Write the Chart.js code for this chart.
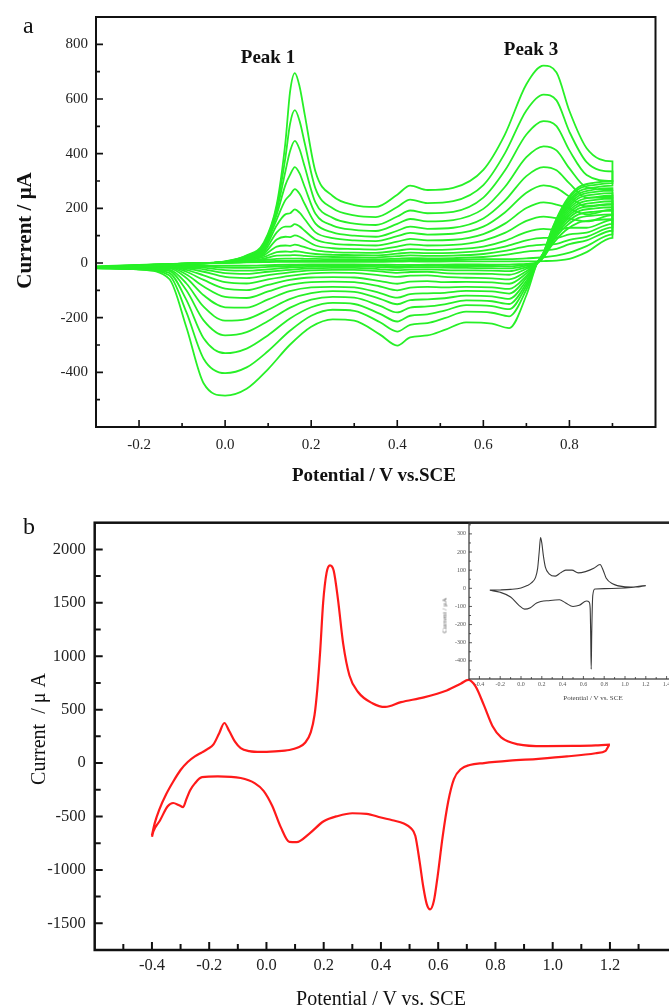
<!DOCTYPE html>
<html>
<head>
<meta charset="utf-8">
<script src="https://cdn.jsdelivr.net/npm/chart.js@4.4.1/dist/chart.umd.min.js"></script>
<style>
html, body { margin: 0; padding: 0; overflow: hidden; background: #fff; width: 669px; height: 1007px; }
canvas { position: absolute; display: block; }
.t { position: absolute; font-family: 'Liberation Serif', 'Times New Roman', serif; color: #111; white-space: pre; line-height: 1; }
.c { text-align: center; }
.r { transform: rotate(-90deg); }
</style>
</head>
<body>
<canvas id="chartA" width="669" height="500" style="left:0;top:0"></canvas>
<canvas id="chartB" width="710" height="507" style="left:0;top:500px"></canvas>
<canvas id="chartInset" width="300" height="200" style="left:420px;top:515px"></canvas>

<div class="t" style="left:23px;top:13px;font-size:24px">a</div>
<div class="t c" style="left:218px;top:47px;width:100px;font-size:19px;font-weight:bold">Peak 1</div>
<div class="t c" style="left:481px;top:39px;width:100px;font-size:19px;font-weight:bold">Peak 3</div>
<div class="t c r" style="left:-96px;top:220px;width:240px;height:21px;font-size:21px;font-weight:bold">Current / μA</div>
<div class="t c" style="left:224px;top:465px;width:300px;font-size:19px;font-weight:bold">Potential / V vs.SCE</div>

<div class="t" style="left:23px;top:514px;font-size:24px">b</div>
<div class="t c r" style="left:-82px;top:719px;width:240px;height:20px;font-size:20px">Current  / μ A</div>
<div class="t c" style="left:231px;top:988px;width:300px;font-size:20px">Potential / V vs. SCE</div>

<div class="t c r" style="left:385px;top:612px;width:120px;height:7px;font-size:7px;color:#555">Current / μA</div>
<div class="t c" style="left:533px;top:695px;width:120px;font-size:7px;color:#444">Potential / V vs. SCE</div>

<script>
// ---------- Panel a: successive CV cycles (14 cycles, index 0 = last / largest) ----------
const fwdPotential = [-0.30, -0.20, -0.10, 0.00, 0.05, 0.09, 0.12, 0.14, 0.151, 0.162, 0.173, 0.185, 0.21,
  0.25, 0.30, 0.35, 0.40, 0.43, 0.47, 0.53, 0.60, 0.65, 0.70, 0.74, 0.77, 0.80, 0.84, 0.90];
// one row per potential above, one column per cycle
const fwdCurrent = [
  [-20, -19, -19, -18, -18, -17, -17, -16, -16, -15, -15, -14, -13, -12],
  [-14, -13, -13, -12, -12, -11, -11, -10, -10, -9, -9, -8, -8, -7],
  [-4, -4, -4, -4, -3, -3, -3, -3, -3, -2, -2, -2, -2, -2],
  [6, 5, 5, 4, 4, 3, 3, 3, 2, 2, 2, 1, 1, 1],
  [28, 26, 24, 22, 20, 18, 15, 12, 10, 8, 6, 4, 3, 2],
  [75, 70, 64, 58, 52, 46, 40, 34, 28, 22, 16, 11, 7, 3],
  [215, 205, 192, 178, 160, 138, 112, 86, 60, 40, 27, 15, 8, 4],
  [440, 385, 335, 285, 230, 178, 133, 96, 64, 42, 28, 16, 8, 4],
  [628, 510, 410, 323, 249, 182, 133, 95, 63, 41, 28, 16, 8, 4],
  [695, 559, 447, 351, 270, 196, 142, 101, 67, 43, 29, 16, 8, 4],
  [646, 520, 416, 328, 253, 184, 134, 96, 64, 42, 28, 16, 8, 4],
  [543, 438, 352, 278, 216, 160, 118, 85, 58, 38, 26, 15, 8, 4],
  [334, 272, 221, 180, 144, 112, 86, 64, 46, 33, 23, 15, 8, 4],
  [245, 200, 165, 137, 112, 91, 71, 54, 40, 30, 22, 14, 8, 4],
  [212, 174, 144, 121, 100, 83, 66, 51, 38, 29, 21, 14, 8, 4],
  [205, 168, 139, 117, 96, 80, 64, 49, 37, 28, 20, 13, 8, 4],
  [250, 205, 170, 143, 118, 98, 78, 60, 45, 34, 25, 16, 10, 5],
  [283, 232, 192, 161, 133, 110, 88, 68, 51, 38, 28, 18, 11, 6],
  [267, 219, 182, 152, 125, 104, 83, 64, 48, 36, 26, 17, 11, 5],
  [275, 226, 187, 157, 129, 107, 85, 66, 50, 37, 27, 18, 11, 6],
  [341, 285, 239, 198, 163, 133, 106, 82, 60, 45, 33, 22, 14, 6],
  [470, 401, 338, 278, 228, 185, 144, 110, 81, 60, 44, 30, 14, 6],
  [654, 558, 470, 387, 318, 257, 201, 154, 113, 83, 61, 42, 17, 6],
  [722, 616, 519, 427, 351, 284, 222, 170, 125, 92, 67, 46, 21, 7],
  [697, 595, 501, 412, 339, 274, 214, 164, 121, 92, 70, 52, 27, 9],
  [556, 480, 412, 346, 291, 243, 199, 162, 129, 105, 85, 69, 38, 15],
  [420, 369, 322, 277, 239, 206, 178, 152, 129, 111, 96, 83, 62, 40],
  [372, 335, 300, 268, 240, 215, 195, 175, 158, 143, 130, 118, 105, 92]
];
const revPotential = [0.90, 0.86, 0.82, 0.79, 0.76, 0.74, 0.725, 0.70, 0.66, 0.62, 0.56, 0.51, 0.47, 0.43,
  0.40, 0.36, 0.30, 0.25, 0.20, 0.15, 0.10, 0.05, 0.00, -0.05, -0.09, -0.13, -0.20, -0.30];
const revCurrent = [
  [300, 292, 283, 274, 265, 256, 246, 236, 226, 215, 204, 192, 178, 160],
  [294, 286, 277, 269, 260, 251, 241, 231, 221, 211, 200, 188, 174, 157],
  [276, 269, 260, 252, 244, 236, 226, 217, 208, 198, 188, 177, 164, 147],
  [222, 216, 209, 203, 196, 189, 182, 175, 167, 159, 151, 142, 132, 118],
  [126, 123, 119, 115, 111, 108, 103, 99, 95, 90, 86, 81, 75, 67],
  [39, 38, 37, 36, 34, 33, 32, 31, 29, 28, 27, 25, 23, 21],
  [0, 0, 0, 0, 0, 0, 0, 0, 0, 0, 0, 0, 0, 0],
  [-118, -97, -84, -74, -65, -55, -47, -38, -30, -21, -15, -10, -6, -3],
  [-238, -195, -169, -150, -131, -112, -95, -76, -60, -43, -30, -20, -12, -6],
  [-222, -182, -158, -140, -122, -104, -89, -71, -56, -40, -28, -19, -11, -6],
  [-217, -178, -154, -137, -119, -102, -87, -69, -54, -39, -27, -18, -11, -5],
  [-245, -202, -174, -151, -129, -109, -89, -70, -51, -37, -26, -17, -11, -6],
  [-265, -220, -188, -159, -133, -111, -87, -66, -45, -32, -23, -15, -10, -6],
  [-272, -226, -193, -163, -136, -114, -90, -68, -46, -33, -24, -16, -11, -7],
  [-302, -251, -214, -181, -151, -127, -100, -76, -51, -36, -26, -18, -12, -7],
  [-262, -217, -186, -157, -131, -110, -86, -66, -45, -31, -23, -15, -10, -6],
  [-211, -175, -150, -127, -106, -89, -70, -53, -36, -25, -18, -12, -8, -5],
  [-206, -171, -146, -124, -103, -87, -68, -52, -35, -25, -18, -12, -8, -5],
  [-233, -193, -162, -134, -110, -89, -70, -53, -38, -27, -20, -14, -9, -5],
  [-300, -249, -204, -164, -132, -103, -80, -62, -47, -34, -25, -17, -11, -6],
  [-388, -322, -264, -212, -171, -133, -104, -80, -60, -44, -32, -23, -14, -8],
  [-460, -382, -313, -253, -205, -163, -128, -99, -75, -55, -40, -28, -18, -10],
  [-485, -403, -330, -265, -211, -162, -124, -94, -70, -51, -37, -26, -17, -10],
  [-440, -350, -275, -210, -160, -118, -86, -62, -45, -32, -23, -17, -12, -9],
  [-235, -180, -135, -100, -75, -55, -42, -32, -25, -20, -17, -14, -12, -10],
  [-58, -45, -36, -29, -24, -20, -17, -15, -13, -12, -11, -10, -9, -8],
  [-24, -23, -22, -21, -20, -19, -18, -17, -16, -15, -14, -13, -12, -11],
  [-20, -19, -19, -18, -18, -17, -17, -16, -16, -15, -15, -14, -13, -12]
];
const aXLabels = [-0.2, 0.0, 0.2, 0.4, 0.6, 0.8];
const aXMinor = [-0.1, 0.1, 0.3, 0.5, 0.7, 0.9];
const aYLabels = [-400, -200, 0, 200, 400, 600, 800];
const aYMinor = [-500, -300, -100, 100, 300, 500, 700];

// ---------- Panel b: single CV scan (upper = anodic, lower = cathodic) ----------
const scanUp = [
  [-0.400, -675], [-0.390, -560], [-0.375, -440], [-0.350, -290], [-0.325, -170], [-0.300, -65],
  [-0.275, 10], [-0.250, 62], [-0.225, 100], [-0.205, 132], [-0.185, 175], [-0.165, 280],
  [-0.147, 375], [-0.130, 300], [-0.110, 200], [-0.090, 140], [-0.060, 112], [-0.020, 104],
  [0.030, 110], [0.080, 122], [0.110, 145], [0.135, 190], [0.155, 290], [0.168, 450],
  [0.178, 700], [0.188, 1060], [0.198, 1500], [0.210, 1780], [0.222, 1850], [0.235, 1800],
  [0.250, 1530], [0.268, 1118], [0.290, 820], [0.320, 665], [0.370, 560], [0.415, 525],
  [0.470, 570], [0.550, 615], [0.630, 680], [0.680, 745], [0.705, 778], [0.730, 720],
  [0.760, 540], [0.790, 345], [0.820, 240], [0.880, 175], [0.970, 158], [1.070, 160],
  [1.150, 165], [1.200, 172]
];
const scanDown = [
  [1.200, 172], [1.185, 115], [1.150, 92], [1.050, 62], [0.950, 40], [0.850, 22], [0.760, 0],
  [0.710, -18], [0.680, -55], [0.655, -150], [0.635, -360], [0.615, -700], [0.598, -1060],
  [0.585, -1290], [0.572, -1370], [0.560, -1320], [0.548, -1160], [0.535, -920], [0.520, -680],
  [0.505, -610], [0.480, -565], [0.440, -535], [0.400, -510], [0.350, -475], [0.300, -470],
  [0.250, -495], [0.200, -545], [0.150, -660], [0.105, -740], [0.080, -738], [0.050, -600],
  [0.020, -400], [-0.010, -260], [-0.040, -190], [-0.090, -140], [-0.170, -125], [-0.225, -132],
  [-0.250, -190], [-0.267, -256], [-0.280, -340], [-0.291, -412], [-0.305, -395], [-0.326, -374],
  [-0.345, -405], [-0.372, -537], [-0.395, -640], [-0.400, -690]
];
const bXLabels = [-0.4, -0.2, 0.0, 0.2, 0.4, 0.6, 0.8, 1.0, 1.2];
const bXMinor = [-0.5, -0.3, -0.1, 0.1, 0.3, 0.5, 0.7, 0.9, 1.1, 1.3];
const bYLabels = [-1500, -1000, -500, 0, 500, 1000, 1500, 2000];
const bYMinor = [-1250, -750, -250, 250, 750, 1250, 1750];

// ---------- Inset: reference scan ----------
const insetUp = [
  [-0.30, -10], [-0.20, -9], [-0.10, -6], [0.00, 2], [0.06, 15], [0.10, 30], [0.14, 60],
  [0.16, 110], [0.175, 200], [0.188, 280], [0.20, 250], [0.215, 180], [0.235, 115], [0.27, 80],
  [0.33, 67], [0.38, 85], [0.43, 100], [0.49, 100], [0.55, 85], [0.62, 92], [0.70, 110],
  [0.76, 131], [0.79, 100], [0.82, 55], [0.88, 25], [1.00, 8], [1.13, 7], [1.20, 15]
];
const insetDown = [
  [1.20, 15], [1.06, 4], [0.80, -2], [0.71, -4], [0.69, -40], [0.68, -250], [0.675, -446],
  [0.67, -250], [0.665, -110], [0.655, -76], [0.63, -70], [0.56, -94], [0.50, -100], [0.43, -81],
  [0.37, -63], [0.28, -67], [0.15, -81], [0.09, -107], [0.035, -115], [-0.02, -94], [-0.10, -48],
  [-0.20, -22], [-0.30, -11]
];
const insetXLabels = [-0.4, -0.2, 0.0, 0.2, 0.4, 0.6, 0.8, 1.0, 1.2, 1.4, 1.6];
const insetXMinor = [-0.3, -0.1, 0.1, 0.3, 0.5, 0.7, 0.9, 1.1, 1.3, 1.5, 1.7];
const insetYLabels = [-400, -300, -200, -100, 0, 100, 200, 300];
const insetYMinor = [-450, -350, -250, -150, -50, 50, 150, 250, 350];

// ---------- shared helpers ----------
const SERIF = "'Liberation Serif', 'Times New Roman', serif";
Chart.defaults.font.family = SERIF;
Chart.defaults.animation = false;
Chart.defaults.events = [];
Chart.defaults.plugins.legend.display = false;
Chart.defaults.plugins.tooltip.enabled = false;

const fmt1 = v => Number(v).toFixed(1);
const fmt0 = v => String(Math.round(v));

function axis(min, max, labels, fmt, fontSize, color, pad, size, horizontal) {
  return {
    type: 'linear', min, max,
    grid: { display: false, drawTicks: false },
    border: { display: false },
    ticks: { autoSkip: false, maxRotation: 0, minRotation: 0, padding: pad, color,
             font: { family: SERIF, size: fontSize }, callback: fmt },
    afterBuildTicks: s => { s.ticks = labels.map(v => ({ value: v })); },
    afterFit: s => { if (horizontal) s.height = size; else s.width = size; }
  };
}

// inward tick marks (major + minor) and the frame around the plot area
function frameTicks(cfg) {
  return {
    id: 'frameTicks',
    beforeDatasetsDraw(chart) {
      if (!cfg.fill) return;
      const a = chart.chartArea, ctx = chart.ctx;
      ctx.save();
      ctx.fillStyle = cfg.fill;
      ctx.fillRect(a.left, a.top + 1, a.right - a.left, a.bottom - a.top - 1);
      ctx.restore();
    },
    afterDatasetsDraw(chart) {
      const { ctx, chartArea: a, scales: { x, y } } = chart;
      ctx.save();
      ctx.strokeStyle = cfg.color;
      ctx.lineWidth = cfg.tickWidth;
      ctx.beginPath();
      const xt = (v, len) => { const p = x.getPixelForValue(v); ctx.moveTo(p, a.bottom); ctx.lineTo(p, a.bottom - len); };
      const yt = (v, len) => { const p = y.getPixelForValue(v); ctx.moveTo(a.left, p); ctx.lineTo(a.left + len, p); };
      cfg.xMajor.forEach(v => xt(v, cfg.majorLen));
      cfg.xMinor.forEach(v => xt(v, cfg.minorLen));
      cfg.yMajor.forEach(v => yt(v, cfg.majorLen));
      cfg.yMinor.forEach(v => yt(v, cfg.minorLen));
      ctx.stroke();
      ctx.lineWidth = cfg.frameWidth;
      ctx.strokeRect(a.left, a.top, a.right - a.left, a.bottom - a.top);
      ctx.restore();
    }
  };
}

// ---------- panel a ----------
const GREEN = '#27f027';
const cycles = fwdCurrent[0].map((_, k) => {
  const pts = fwdPotential.map((p, i) => ({ x: p, y: fwdCurrent[i][k] }))
    .concat(revPotential.map((p, i) => ({ x: p, y: revCurrent[i][k] })));
  return { data: pts, borderColor: GREEN, borderWidth: 1.8, pointRadius: 0,
           cubicInterpolationMode: 'monotone', fill: false };
});

new Chart(document.getElementById('chartA'), {
  type: 'line',
  data: { datasets: cycles },
  options: {
    responsive: false,
    layout: { padding: { left: 0, right: 13.5, top: 13.5, bottom: 0 } },
    scales: {
      x: axis(-0.3, 1.0, aXLabels, fmt1, 15, '#222', 9, 73, true),
      y: axis(-600, 900, aYLabels, fmt0, 15, '#222', 8, 96, false)
    }
  },
  plugins: [frameTicks({ xMajor: aXLabels, xMinor: aXMinor, yMajor: aYLabels, yMinor: aYMinor,
    majorLen: 7, minorLen: 4, tickWidth: 1.6, frameWidth: 2, color: '#111' })]
});

// ---------- panel b ----------
const toXY = arr => arr.map(([x, y]) => ({ x, y }));
new Chart(document.getElementById('chartB'), {
  type: 'line',
  data: { datasets: [{
    data: toXY(scanUp.concat(scanDown)), borderColor: '#ff1a1a', borderWidth: 2.2, pointRadius: 0,
    cubicInterpolationMode: 'monotone', fill: false
  }] },
  options: {
    responsive: false,
    layout: { padding: { left: 0, right: 28.5, top: 22.7, bottom: 0 } },
    scales: {
      x: axis(-0.6, 1.45, bXLabels, fmt1, 16.5, '#222', 6, 57, true),
      y: axis(-1750, 2250, bYLabels, fmt0, 16.5, '#222', 9, 94.7, false)
    }
  },
  plugins: [frameTicks({ xMajor: bXLabels, xMinor: bXMinor, yMajor: bYLabels, yMinor: bYMinor,
    majorLen: 8, minorLen: 6, tickWidth: 2, frameWidth: 2.5, color: '#111' })]
});

// ---------- inset ----------
new Chart(document.getElementById('chartInset'), {
  type: 'line',
  data: { datasets: [{
    data: toXY(insetUp.concat(insetDown)), borderColor: '#3a3a3a', borderWidth: 1.1, pointRadius: 0,
    cubicInterpolationMode: 'monotone', fill: false
  }] },
  options: {
    responsive: false,
    layout: { padding: { left: 0, right: 11.8, top: 8, bottom: 0 } },
    scales: {
      x: axis(-0.5, 1.8, insetXLabels, fmt1, 6, '#555', 1.5, 36, true),
      y: axis(-500, 360, insetYLabels, fmt0, 6, '#555', 3, 49, false)
    }
  },
  plugins: [frameTicks({ xMajor: insetXLabels, xMinor: insetXMinor, yMajor: insetYLabels, yMinor: insetYMinor,
    majorLen: 3, minorLen: 2, tickWidth: 0.8, frameWidth: 1.2, color: '#333', fill: '#fff' })]
});
</script>
</body>
</html>
